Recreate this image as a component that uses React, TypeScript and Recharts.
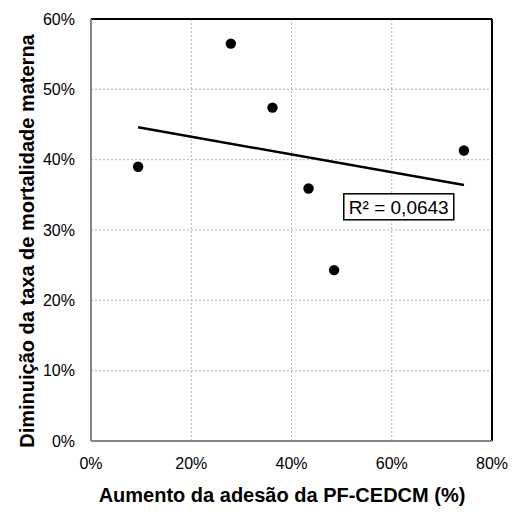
import React from 'react'
import {
  ScatterChart,
  Scatter,
  XAxis,
  YAxis,
  CartesianGrid,
  ReferenceLine,
  ReferenceDot,
} from 'recharts'

// adesão (%) x diminuição da mortalidade (%)
const adesao = [9.4, 27.9, 36.2, 43.4, 48.5, 74.4]
const diminuicao = [39.0, 56.5, 47.4, 35.9, 24.3, 41.3]

// linear trendline end points
const trendX = [9.4, 74.4]
const trendY = [44.6, 36.4]

const xTicks = [0, 20, 40, 60, 80]
const yTicks = [0, 10, 20, 30, 40, 50, 60]

const r2Text = 'R² = 0,0643'
const r2Pos = { x: 61.4, y: 33.3 }

const xTitle = 'Aumento da adesão da PF-CEDCM (%)'
const yTitle = 'Diminuição da taxa de mortalidade materna'

const points = adesao.map((x, i) => ({ x, y: diminuicao[i] }))
const trend = trendX.map((x, i) => ({ x, y: trendY[i] }))

const FONT = '"Liberation Sans", Arial, sans-serif'
const pct = (v: number) => `${v}%`

const R2Box = ({ viewBox }: any) => {
  const cx = viewBox.x + (viewBox.width || 0) / 2
  const cy = viewBox.y + (viewBox.height || 0) / 2
  const w = 110
  const h = 26
  return (
    <g>
      <rect x={cx - w / 2} y={cy - h / 2} width={w} height={h} fill="#fff" stroke="#000" strokeWidth={1.5} />
      <text x={cx} y={cy + 7} textAnchor="middle" fontFamily={FONT} fontSize={19} fill="#000">
        {r2Text}
      </text>
    </g>
  )
}

const Dot = (props: any) => <circle cx={props.cx} cy={props.cy} r={5.2} fill="#000" />

export default function App() {
  return (
    <div style={{ width: 509, height: 504, position: 'relative', background: '#fff' }}>
      <ScatterChart width={509} height={504} margin={{ top: 11, right: 25, bottom: 41, left: 23 }}>
        <CartesianGrid stroke="#b4b4b4" strokeDasharray="2 2" strokeWidth={1} />
        <XAxis
          type="number"
          dataKey="x"
          domain={[0, 80]}
          ticks={xTicks}
          tickFormatter={pct}
          height={30}
          axisLine={{ stroke: '#868686', strokeWidth: 2 }}
          tickLine={false}
          tickSize={6}
          tickMargin={11}
          tick={{ fill: '#000', fontSize: 16, fontFamily: FONT }}
          interval={0}
          label={{
            content: () => (
              <text x={274} y={494} textAnchor="middle" fontFamily={FONT} fontSize={20} fontWeight="bold" fill="#000">
                {xTitle}
              </text>
            ),
          }}
        />
        <YAxis
          type="number"
          dataKey="y"
          domain={[0, 60]}
          ticks={yTicks}
          tickFormatter={pct}
          width={60}
          axisLine={{ stroke: '#868686', strokeWidth: 2 }}
          tickLine={false}
          tickSize={6}
          tickMargin={10}
          tick={{ fill: '#000', fontSize: 16, fontFamily: FONT }}
          interval={0}
          label={{
            content: () => (
              <text
                x={19}
                y={233}
                dy={7}
                transform="rotate(-90, 19, 233)"
                textAnchor="middle"
                fontFamily={FONT}
                fontSize={20}
                fontWeight="bold"
                fill="#000"
              >
                {yTitle}
              </text>
            ),
          }}
        />
        <ReferenceLine y={60} stroke="#000" strokeWidth={2} />
        <ReferenceLine x={80} stroke="#000" strokeWidth={2} />
        <Scatter
          data={trend}
          line={{ stroke: '#000', strokeWidth: 2.5 }}
          shape={() => <g />}
          isAnimationActive={false}
        />
        <Scatter data={points} fill="#000" shape={<Dot />} isAnimationActive={false} />
        <ReferenceDot x={r2Pos.x} y={r2Pos.y} r={0} stroke="none" label={<R2Box />} />
      </ScatterChart>
    </div>
  )
}
